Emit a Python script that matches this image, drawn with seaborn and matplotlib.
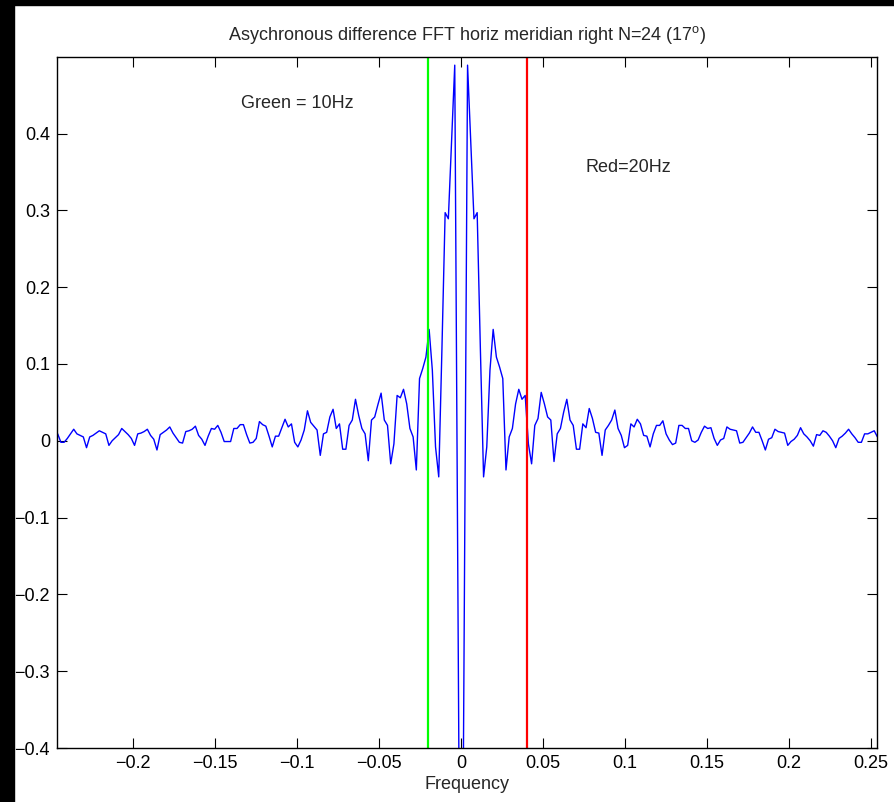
import matplotlib
matplotlib.use("Agg")
import matplotlib.pyplot as plt
from matplotlib.patches import Rectangle
import numpy as np
import seaborn as sns

#%% Data (FFT bins, spacing 1/512)
bins = np.arange(-126, 131)
freq = bins / 512.0

amplitude = [
    # -126 .. -117
    0.009, -0.002, -0.002, 0.003, 0.009, 0.015, 0.009, 0.007, 0.005, -0.009,
    # -116 .. -107
    0.005, 0.007, 0.010, 0.013, 0.011, 0.009, -0.006, 0.000, 0.004, 0.008,
    # -106 .. -97
    0.016, 0.012, 0.008, 0.003, -0.006, 0.009, 0.010, 0.012, 0.015, 0.007,
    # -96 .. -87
    0.002, -0.012, 0.008, 0.011, 0.014, 0.018, 0.010, 0.004, -0.002, -0.003,
    # -86 .. -77
    0.012, 0.013, 0.015, 0.019, 0.007, 0.002, -0.006, 0.006, 0.016, 0.015,
    # -76 .. -67
    0.020, 0.011, -0.001, -0.001, -0.001, 0.016, 0.016, 0.021, 0.021, 0.008,
    # -66 .. -57
    -0.003, -0.002, 0.003, 0.025, 0.021, 0.019, 0.006, -0.008, 0.006, 0.006,
    # -56 .. -47
    0.017, 0.028, 0.018, 0.022, -0.002, -0.008, 0.001, 0.014, 0.039, 0.024,
    # -46 .. -37
    0.019, 0.014, -0.019, 0.009, 0.011, 0.031, 0.041, 0.016, 0.022, -0.011,
    # -36 .. -27
    -0.011, 0.020, 0.027, 0.054, 0.033, 0.016, 0.009, -0.026, 0.027, 0.031,
    # -26 .. -17
    0.047, 0.062, 0.027, 0.020, -0.030, -0.004, 0.059, 0.056, 0.067, 0.048,
    # -16 .. -7
    0.016, 0.005, -0.038, 0.081, 0.094, 0.109, 0.145, 0.092, -0.008, -0.047,
    # -6 .. 0
    0.12, 0.297, 0.289, 0.39, 0.489, -0.21, -0.9,
    # 1 .. 10
    -0.21, 0.489, 0.39, 0.289, 0.297, 0.12, -0.047, -0.008, 0.092, 0.145,
    # 11 .. 20
    0.109, 0.096, 0.081, -0.038, 0.005, 0.016, 0.048, 0.067, 0.054, 0.059,
    # 21 .. 30
    -0.004, -0.030, 0.020, 0.029, 0.063, 0.048, 0.031, 0.027, -0.027, 0.009,
    # 31 .. 40
    0.016, 0.037, 0.054, 0.027, 0.020, -0.011, -0.011, 0.022, 0.017, 0.042,
    # 41 .. 50
    0.029, 0.011, 0.010, -0.019, 0.014, 0.020, 0.027, 0.040, 0.016, 0.007,
    # 51 .. 60
    -0.009, -0.006, 0.022, 0.018, 0.028, 0.022, 0.007, 0.006, -0.008, 0.009,
    # 61 .. 70
    0.020, 0.020, 0.026, 0.009, 0.001, -0.005, -0.003, 0.020, 0.020, 0.016,
    # 71 .. 80
    0.016, 0.000, -0.002, 0.001, 0.011, 0.019, 0.016, 0.017, 0.003, -0.006,
    # 81 .. 90
    0.001, 0.003, 0.018, 0.015, 0.014, 0.013, -0.003, -0.002, 0.004, 0.010,
    # 91 .. 100
    0.018, 0.011, 0.011, 0.000, -0.012, 0.002, 0.004, 0.015, 0.012, 0.011,
    # 101 .. 110
    0.010, -0.006, -0.001, 0.002, 0.007, 0.017, 0.009, 0.005, 0.000, -0.007,
    # 111 .. 120
    0.008, 0.007, 0.013, 0.011, 0.006, 0.000, -0.009, 0.003, 0.006, 0.010,
    # 121 .. 130
    0.015, 0.009, 0.004, -0.002, -0.002, 0.009, 0.009, 0.011, 0.013, 0.005,
]

green_freq = -0.02   # 10 Hz marker
red_freq = 0.04      # 20 Hz marker

xtick_values = [-0.2, -0.15, -0.1, -0.05, 0, 0.05, 0.1, 0.15, 0.2, 0.25]
xtick_labels = ["\u22120.2", "\u22120.15", "\u22120.1", "\u22120.05", "0",
                "0.05", "0.1", "0.15", "0.2", "0.25"]
ytick_values = [-0.4, -0.3, -0.2, -0.1, 0, 0.1, 0.2, 0.3, 0.4]
ytick_labels = ["\u22120.4", "\u22120.3", "\u22120.2", "\u22120.1", "0",
                "0.1", "0.2", "0.3", "0.4"]

#%% Figure
sns.set_style("ticks")
plt.rcParams['font.family'] = ['Liberation Sans', 'DejaVu Sans']
plt.rcParams['mathtext.fontset'] = 'custom'
plt.rcParams['mathtext.rm'] = 'Liberation Sans'

fig = plt.figure(figsize=(8.94, 8.02), dpi=100)
fig.patch.set_facecolor('white')
ax = fig.add_axes([0.0638, 0.0673, 0.9169, 0.862])

sns.lineplot(x=freq, y=amplitude, ax=ax, color='#0000ff', linewidth=1.0)
ax.axvline(green_freq, color='#00ff00', linewidth=1.6)
ax.axvline(red_freq, color='#ff0000', linewidth=1.6)

ax.set_xlim(-0.2465, 0.2535)
ax.set_ylim(-0.4, 0.5)
ax.set_xticks(xtick_values)
ax.set_xticklabels(xtick_labels)
ax.set_yticks(ytick_values)
ax.set_yticklabels(ytick_labels)
ax.tick_params(direction='in', length=7, width=0.8, top=True, right=True,
               labelsize=13, colors='black', pad=5)
for sp in ax.spines.values():
    sp.set_visible(True)
    sp.set_color('black')
    sp.set_linewidth(1.0)

ax.set_title('Asychronous difference FFT horiz meridian right N=24 (17$^{\\mathrm{o}}$)',
             fontsize=13, pad=12)
ax.set_xlabel('Frequency', fontsize=13, labelpad=3)
ax.set_ylabel('')

ax.text(-0.100, 0.439, 'Green = 10Hz', fontsize=13, ha='center', va='center')
ax.text(0.102, 0.356, 'Red=20Hz', fontsize=13, ha='center', va='center')

# black borders of the original screen grab
fig.add_artist(Rectangle((0, 0), 14 / 894, 1, transform=fig.transFigure,
                         color='black', zorder=10))
fig.add_artist(Rectangle((0, 1 - 5 / 802), 1, 5 / 802, transform=fig.transFigure,
                         color='black', zorder=10))

fig.savefig('out.png', dpi=100)
